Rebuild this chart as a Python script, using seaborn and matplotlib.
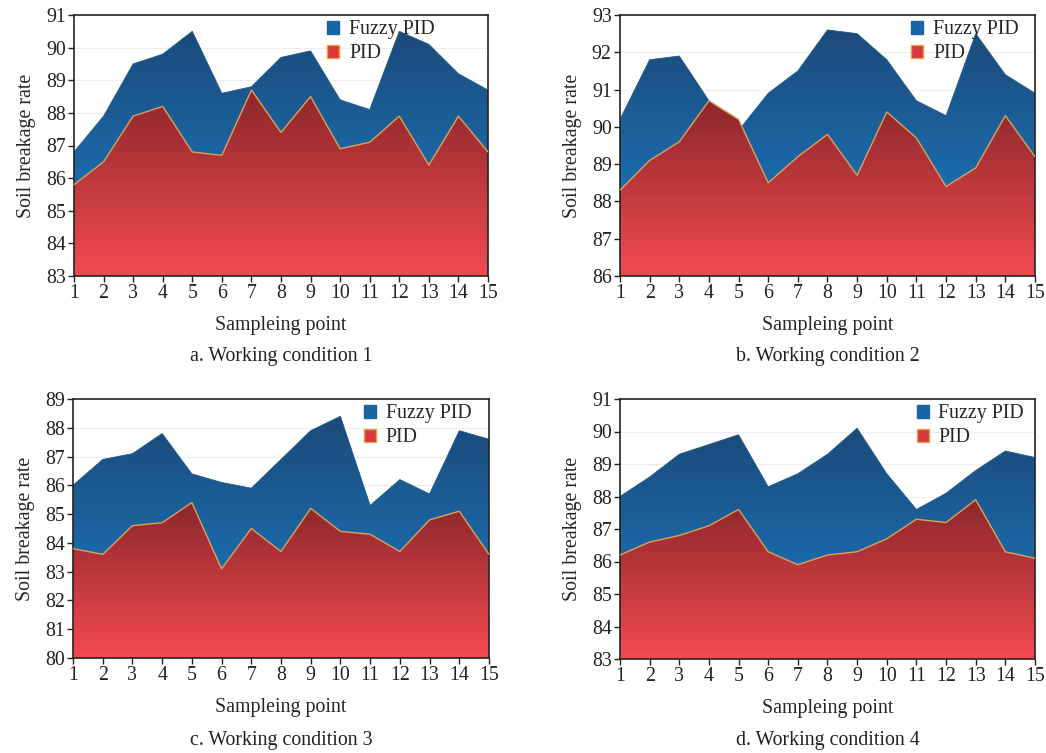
import matplotlib
matplotlib.use("Agg")
import matplotlib.pyplot as plt
import seaborn as sns
import numpy as np
import pandas as pd
from matplotlib.colors import LinearSegmentedColormap
from matplotlib.patches import PathPatch, Patch

# sampling points
points = list(range(1, 16))

# condition 1
fuzzy_1 = [86.8, 87.9, 89.5, 89.8, 90.5, 88.6, 88.8, 89.7, 89.9, 88.4, 88.1, 90.5, 90.1, 89.2, 88.7]
pid_1 = [85.8, 86.5, 87.9, 88.2, 86.8, 86.7, 88.7, 87.4, 88.5, 86.9, 87.1, 87.9, 86.4, 87.9, 86.8]
# condition 2
fuzzy_2 = [90.2, 91.8, 91.9, 90.7, 89.9, 90.9, 91.5, 92.6, 92.5, 91.8, 90.7, 90.3, 92.5, 91.4, 90.9]
pid_2 = [88.3, 89.1, 89.6, 90.7, 90.2, 88.5, 89.2, 89.8, 88.7, 90.4, 89.7, 88.4, 88.9, 90.3, 89.2]
# condition 3
fuzzy_3 = [86.0, 86.9, 87.1, 87.8, 86.4, 86.1, 85.9, 86.9, 87.9, 88.4, 85.3, 86.2, 85.7, 87.9, 87.6]
pid_3 = [83.8, 83.6, 84.6, 84.7, 85.4, 83.1, 84.5, 83.7, 85.2, 84.4, 84.3, 83.7, 84.8, 85.1, 83.6]
# condition 4
fuzzy_4 = [88.0, 88.6, 89.3, 89.6, 89.9, 88.3, 88.7, 89.3, 90.1, 88.7, 87.6, 88.1, 88.8, 89.4, 89.2]
pid_4 = [86.2, 86.6, 86.8, 87.1, 87.6, 86.3, 85.9, 86.2, 86.3, 86.7, 87.3, 87.2, 87.9, 86.3, 86.1]

y_ranges = [(83, 91), (86, 93), (80, 89), (83, 91)]
captions = ["a. Working condition 1", "b. Working condition 2",
            "c. Working condition 3", "d. Working condition 4"]

sns.set_theme(style="ticks")
plt.rcParams['font.family'] = ['Liberation Serif', 'DejaVu Serif']

W, H = 1046, 753
fig = plt.figure(figsize=(W / 100, H / 100), dpi=100)

# axes boxes in pixels: left, top, right, bottom
boxes = [(74, 15, 488, 276), (620, 15, 1035, 276),
         (73, 399, 489, 658), (620, 399, 1035, 659)]
leg_x = [0.583, 0.673, 0.671, 0.686]

blue_top, blue_bot = "#1c4a79", "#1a80cc"
red_top, red_bot = "#8c272b", "#f24b51"
FS = 14.3


def grad_area(ax, x, y, base, c_top, c_bot, z):
    poly = ax.fill_between(x, y, base, color="none", lw=0)
    path = poly.get_paths()[0]
    clip = PathPatch(path, transform=ax.transData, facecolor="none", edgecolor="none")
    ax.add_patch(clip)
    cmap = LinearSegmentedColormap.from_list("g", [c_bot, c_top])
    grad = np.linspace(0, 1, 256).reshape(-1, 1)
    im = ax.imshow(grad, cmap=cmap, aspect="auto", origin="lower",
                   extent=[x[0], x[-1], base, max(y)], zorder=z)
    im.set_clip_path(clip)


series = [(fuzzy_1, pid_1), (fuzzy_2, pid_2), (fuzzy_3, pid_3), (fuzzy_4, pid_4)]

for i, ((fz, pd_), (y0, y1), cap, box) in enumerate(zip(series, y_ranges, captions, boxes)):
    l, t, r, b = box
    ax = fig.add_axes([l / W, 1 - b / H, (r - l) / W, (b - t) / H])
    df = pd.DataFrame({"point": points, "Fuzzy PID": fz, "PID": pd_})

    for yy in range(y0, y1 + 1):
        ax.axhline(yy, color="#eeeeee", lw=0.8, zorder=0)

    grad_area(ax, points, fz, y0, blue_top, blue_bot, 1)
    sns.lineplot(data=df, x="point", y="Fuzzy PID", ax=ax, color="#1d5a90", lw=0.6, zorder=1.5)
    grad_area(ax, points, pd_, y0, red_top, red_bot, 2)
    sns.lineplot(data=df, x="point", y="PID", ax=ax, color="#d9a25a", lw=1.0, zorder=4)

    ax.set_xlim(1, 15)
    ax.set_ylim(y0, y1)
    ax.set_xticks(points)
    ax.set_yticks(range(y0, y1 + 1))
    ax.tick_params(direction="out", length=4, width=1, labelsize=FS, pad=2, colors="#222222")
    for s in ax.spines.values():
        s.set_linewidth(1.2)
        s.set_color("#222222")
    ax.set_xlabel("Sampleing point", fontsize=FS, labelpad=9)
    ax.set_ylabel("Soil breakage rate", fontsize=FS, labelpad=7)

    handles = [Patch(facecolor="#1b65a6", edgecolor="#1b65a6", label="Fuzzy PID"),
               Patch(facecolor="#d8393e", edgecolor="#e8a050", label="PID")]
    ax.legend(handles=handles, loc="upper left", bbox_to_anchor=(leg_x[i], 1.025),
              frameon=False, fontsize=FS, handlelength=0.6, handleheight=0.6,
              handletextpad=0.5, labelspacing=0.25, borderaxespad=0.2)

    cy = 357 if i < 2 else 740
    fig.text((l + r) / 2 / W, 1 - cy / H, cap, fontsize=FS, ha="center", va="center",
             color="#222222")

fig.savefig("out.png", dpi=100)
